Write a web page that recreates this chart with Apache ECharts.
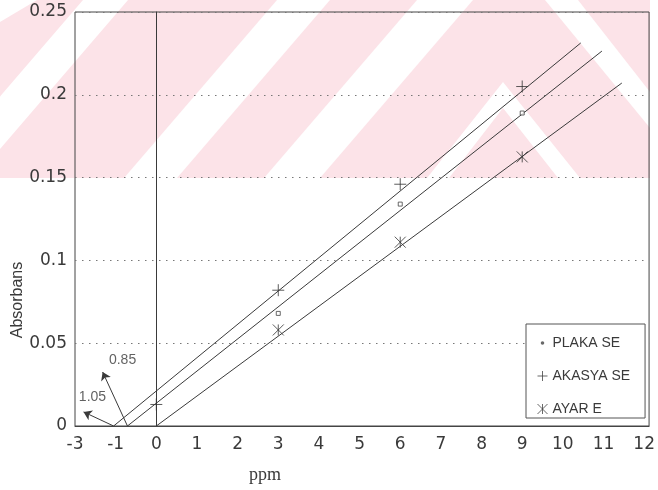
<!DOCTYPE html>
<html><head><meta charset="utf-8">
<script src="https://cdn.jsdelivr.net/npm/echarts@6/dist/echarts.min.js"></script>
<style>html,body{margin:0;padding:0;background:#fff}#c{width:658px;height:490px}</style>
</head><body><div id="c"></div>
<script>
// ---- data ----
const concentrations = [0, 3, 6, 9];
const plakaValues  = [null, 0.068, 0.134, 0.189];
const akasyaValues = [0.013, 0.082, 0.146, 0.205];
const ayarValues   = [null, 0.058, 0.111, 0.1625];
// fitted calibration lines (start and end points)
const plakaFitX  = [-0.71, 10.96];  const plakaFitY  = [0, 0.2264];
const akasyaFitX = [-1.05, 10.44];  const akasyaFitY = [0, 0.2313];
const ayarFitX   = [0, 11.45];      const ayarFitY   = [0, 0.2071];
// x tick values and the labels printed under them
const xTickValues = [-2, -1, 0, 1, 2, 3, 4, 5, 6, 7, 8, 9, 10, 11, 12];
const xTickLabels = ['-3', '-1', '0', '1', '2', '3', '4', '5', '6', '7', '8', '9', '10', '11', '12'];
// intercept annotations
const interceptNames = ['1.05', '0.85'];
const interceptX = [-1.05, -0.71];
const arrowTipX = [-1.79, -1.32];
const arrowTipY = [0.0085, 0.0326];
const annotLabelX = [-1.57, -0.83];
const annotLabelY = [0.0175, 0.0399];

const FONT = 'Liberation Sans, Arial, sans-serif';
const TICKFONT = 'DejaVu Sans, sans-serif';
const INK = '#3a3a3a';
const plusPath = 'path://M0,5L10,5M5,0L5,10';
const starPath = 'path://M0,0L10,10M10,0L0,10M5,0L5,10';
const dotPath = 'path://M0,0L0.01,0M10,10L10.01,10M3.2,5A1.8,1.8,0,1,0,6.8,5A1.8,1.8,0,1,0,3.2,5Z';

const zip = (xs, ys) => xs.map((x, i) => [x, ys[i] == null ? '-' : ys[i]]);

const band = (bx0, bx1, tx0, tx1, yTop, yBot) => ({
  type: 'polygon', z: -9, silent: true,
  shape: { points: [[bx0, yBot], [tx0, yTop], [tx1, yTop], [bx1, yBot]] },
  style: { fill: '#fff' }
});

const chart = echarts.init(document.getElementById('c'));
chart.setOption({
  animation: false,
  backgroundColor: '#fff',
  graphic: {
    elements: [
      { type: 'rect', z: -10, silent: true, shape: { x: 0, y: 0, width: 650, height: 178 }, style: { fill: '#fce3e8' } },
      { type: 'polygon', z: -9, silent: true, shape: { points: [[0, 0], [37, 0], [0, 22]] }, style: { fill: '#fff' } },
      band(-70, -25, 83, 128, 0, 178),
      band(124, 177, 277, 330, 0, 178),
      band(264, 320, 417, 473, 0, 178),
      { type: 'polygon', z: -9, silent: true, shape: { points: [[427, 178], [503, 82], [580, 178], [558, 178], [503, 108], [449, 178]] }, style: { fill: '#fff' } },
      { type: 'polygon', z: -9, silent: true, shape: { points: [[545, 0], [578, 0], [650, 92], [650, 128]] }, style: { fill: '#fff' } },
      { type: 'text', z: 10, x: 18, y: 300, rotation: Math.PI / 2, style: { text: 'Absorbans', font: '16px ' + FONT, fill: INK, align: 'center', verticalAlign: 'middle' } },
      { type: 'text', z: 10, x: 265, y: 475, style: { text: 'ppm', font: '18px Liberation Serif, Times New Roman, serif', fill: INK, align: 'center', verticalAlign: 'middle' } }
    ]
  },
  grid: { left: 75, right: 6, top: 12, bottom: 64, show: true, borderColor: '#444', borderWidth: 1, backgroundColor: 'transparent' },
  xAxis: {
    type: 'value', min: -2, max: 12.12, interval: 1,
    axisLine: { onZero: false, lineStyle: { color: '#444' } },
    axisTick: { show: false },
    splitLine: { show: false },
    axisLabel: {
      fontSize: 17, fontFamily: TICKFONT, color: INK, margin: 10,
      formatter: v => { const i = xTickValues.indexOf(Math.round(v * 1000) / 1000); return i >= 0 ? xTickLabels[i] : ''; }
    }
  },
  yAxis: {
    type: 'value', min: 0, max: 0.25, interval: 0.05,
    axisLine: { show: true, lineStyle: { color: '#444' } },
    axisTick: { show: false },
    splitLine: { show: true, lineStyle: { color: '#777', type: [1.5, 5.5], width: 1 } },
    axisLabel: { fontSize: 17, fontFamily: TICKFONT, color: INK, margin: 8 }
  },
  legend: {
    orient: 'vertical', left: 526, top: 324,
    itemWidth: 10, itemHeight: 10, itemGap: 17,
    padding: [11, 15, 1, 9],
    borderColor: '#555', borderWidth: 1, backgroundColor: '#fff',
    selectedMode: false,
    textStyle: { fontSize: 14, fontFamily: FONT, color: INK, lineHeight: 16 },
    data: [
      { name: 'PLAKA SE', icon: dotPath, itemStyle: { color: '#444', borderColor: '#444', borderWidth: 0 } },
      { name: 'AKASYA SE', icon: plusPath, itemStyle: { color: 'none', borderColor: '#444', borderWidth: 1 } },
      { name: 'AYAR E', icon: starPath, itemStyle: { color: 'none', borderColor: '#444', borderWidth: 1 } }
    ]
  },
  series: [
    { name: 'PLAKA SE fit', type: 'line', data: zip(plakaFitX, plakaFitY), showSymbol: false, silent: true, lineStyle: { color: INK, width: 1 } },
    { name: 'AKASYA SE fit', type: 'line', data: zip(akasyaFitX, akasyaFitY), showSymbol: false, silent: true, lineStyle: { color: INK, width: 1 } },
    { name: 'AYAR E fit', type: 'line', data: zip(ayarFitX, ayarFitY), showSymbol: false, silent: true, lineStyle: { color: INK, width: 1 } },
    {
      name: 'y-axis at zero', type: 'lines', coordinateSystem: 'cartesian2d', silent: true, symbol: 'none',
      lineStyle: { color: INK, width: 1, opacity: 1 },
      data: [{ coords: [[0, 0], [0, 0.25]] }]
    },
    {
      name: 'intercept arrows', type: 'lines', coordinateSystem: 'cartesian2d', silent: true,
      symbol: ['none', 'arrow'], symbolSize: 8,
      lineStyle: { color: INK, width: 1, opacity: 1 },
      data: interceptX.map((x, i) => ({ coords: [[x, 0], [arrowTipX[i], arrowTipY[i]]] }))
    },
    {
      name: 'intercept labels', type: 'scatter', silent: true, symbolSize: 0,
      data: annotLabelX.map((x, i) => [x, annotLabelY[i], interceptNames[i]]),
      label: { show: true, position: 'inside', formatter: p => p.data[2], fontSize: 14, fontFamily: FONT, color: INK }
    },
    {
      name: 'PLAKA SE', type: 'scatter', data: zip(concentrations, plakaValues), symbol: 'rect', symbolSize: 4, z: 5,
      itemStyle: { color: '#fff', borderColor: '#444', borderWidth: 1 }
    },
    {
      name: 'AKASYA SE', type: 'scatter', data: zip(concentrations, akasyaValues), symbol: plusPath, symbolSize: 12, z: 5,
      itemStyle: { color: 'none', borderColor: '#333', borderWidth: 1 }
    },
    {
      name: 'AYAR E', type: 'scatter', data: zip(concentrations, ayarValues), symbol: starPath, symbolSize: 11, z: 5,
      itemStyle: { color: 'none', borderColor: '#333', borderWidth: 1 }
    }
  ]
});
</script>
</body></html>
